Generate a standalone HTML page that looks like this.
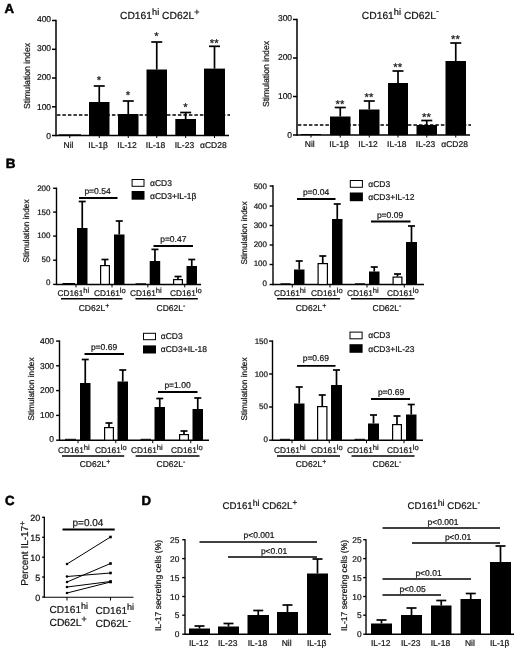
<!DOCTYPE html>
<html lang="en">
<head>
<meta charset="utf-8">
<title>Figure</title>
<style>
html,body{margin:0;padding:0;background:#fff;}
body{width:520px;height:648px;overflow:hidden;}
svg{display:block;filter:blur(0.3px);font-family:"Liberation Sans",sans-serif;}
text{stroke:#151515;stroke-width:0.22px;text-rendering:geometricPrecision;}
text.b{stroke:#000;stroke-width:0.5px;}
</style>
</head>
<body>
<svg width="520" height="648" viewBox="0 0 520 648">
<rect x="0" y="0" width="520" height="648" fill="#fff"/>
<text x="4.6" y="12.5" font-size="13.2" text-anchor="start" fill="#000" font-weight="bold" class="b">A</text>
<g id="A-left">
<line x1="56" y1="19.75" x2="56" y2="136.25" stroke="#000" stroke-width="1.5"/>
<line x1="52" y1="20.5" x2="56" y2="20.5" stroke="#000" stroke-width="1.5"/>
<text x="51.1" y="21.56" font-size="8.5" text-anchor="end" fill="#151515">400</text>
<line x1="52" y1="49.3" x2="56" y2="49.3" stroke="#000" stroke-width="1.5"/>
<text x="51.1" y="50.91" font-size="8.5" text-anchor="end" fill="#151515">300</text>
<line x1="52" y1="78" x2="56" y2="78" stroke="#000" stroke-width="1.5"/>
<text x="51.1" y="80.16" font-size="8.5" text-anchor="end" fill="#151515">200</text>
<line x1="52" y1="106.8" x2="56" y2="106.8" stroke="#000" stroke-width="1.5"/>
<text x="51.1" y="109.51" font-size="8.5" text-anchor="end" fill="#151515">100</text>
<line x1="52" y1="135.5" x2="56" y2="135.5" stroke="#000" stroke-width="1.5"/>
<text x="51.1" y="138.76" font-size="8.5" text-anchor="end" fill="#151515">0</text>
<line x1="56" y1="135.5" x2="229" y2="135.5" stroke="#000" stroke-width="1.5"/>
<text x="29.5" y="76" font-size="8.7" text-anchor="middle" fill="#151515" transform="rotate(-90 29.5 76)">Stimulation index</text>
<rect x="58.5" y="134.3" width="22.5" height="1.2" fill="#000"/>
<line x1="69.75" y1="135.5" x2="69.75" y2="138" stroke="#000" stroke-width="1"/>
<text x="68.55" y="147.5" font-size="8.5" text-anchor="middle" fill="#151515">Nil</text>
<line x1="99.25" y1="86" x2="99.25" y2="102" stroke="#000" stroke-width="1.7"/>
<line x1="93.75" y1="86" x2="104.75" y2="86" stroke="#000" stroke-width="1.7"/>
<rect x="89" y="102" width="20.5" height="33.5" fill="#000"/>
<line x1="99.25" y1="135.5" x2="99.25" y2="138" stroke="#000" stroke-width="1"/>
<text x="98.05" y="147.5" font-size="8.5" text-anchor="middle" fill="#151515">IL-1β</text>
<text x="98.95" y="84.3" font-size="11.3" text-anchor="middle" fill="#151515">*</text>
<line x1="128.25" y1="101" x2="128.25" y2="114" stroke="#000" stroke-width="1.7"/>
<line x1="122.75" y1="101" x2="133.75" y2="101" stroke="#000" stroke-width="1.7"/>
<rect x="118" y="114" width="20.5" height="21.5" fill="#000"/>
<line x1="128.25" y1="135.5" x2="128.25" y2="138" stroke="#000" stroke-width="1"/>
<text x="127.05" y="147.5" font-size="8.5" text-anchor="middle" fill="#151515">IL-12</text>
<text x="127.95" y="99.3" font-size="11.3" text-anchor="middle" fill="#151515">*</text>
<line x1="156.75" y1="42" x2="156.75" y2="69.5" stroke="#000" stroke-width="1.7"/>
<line x1="151.25" y1="42" x2="162.25" y2="42" stroke="#000" stroke-width="1.7"/>
<rect x="146.5" y="69.5" width="20.5" height="66" fill="#000"/>
<line x1="156.75" y1="135.5" x2="156.75" y2="138" stroke="#000" stroke-width="1"/>
<text x="155.55" y="147.5" font-size="8.5" text-anchor="middle" fill="#151515">IL-18</text>
<text x="156.45" y="40.3" font-size="11.3" text-anchor="middle" fill="#151515">*</text>
<line x1="185.65" y1="112.5" x2="185.65" y2="119" stroke="#000" stroke-width="1.7"/>
<line x1="180.15" y1="112.5" x2="191.15" y2="112.5" stroke="#000" stroke-width="1.7"/>
<rect x="175.3" y="119" width="20.7" height="16.5" fill="#000"/>
<line x1="185.65" y1="135.5" x2="185.65" y2="138" stroke="#000" stroke-width="1"/>
<text x="184.45" y="147.5" font-size="8.5" text-anchor="middle" fill="#151515">IL-23</text>
<text x="185.35" y="110.8" font-size="11.3" text-anchor="middle" fill="#151515">*</text>
<line x1="214.5" y1="46.3" x2="214.5" y2="68.6" stroke="#000" stroke-width="1.7"/>
<line x1="209" y1="46.3" x2="220" y2="46.3" stroke="#000" stroke-width="1.7"/>
<rect x="204" y="68.6" width="21" height="66.9" fill="#000"/>
<line x1="214.5" y1="135.5" x2="214.5" y2="138" stroke="#000" stroke-width="1"/>
<text x="213.3" y="147.5" font-size="8.5" text-anchor="middle" fill="#151515">αCD28</text>
<text x="214.2" y="46.7" font-size="11.3" text-anchor="middle" fill="#151515">**</text>
<line x1="56.9" y1="115" x2="230" y2="115" stroke="#000" stroke-width="1.6" stroke-dasharray="3.5 2"/>

<text x="120" y="19" font-size="10.3" text-anchor="start" fill="#151515">CD161<tspan font-size="9.2" dy="-4.2">hi</tspan><tspan font-size="10.3" dy="4.2"> CD62L</tspan><tspan font-size="9" dy="-4.5">+</tspan></text>
</g>
<g id="A-right">
<line x1="297" y1="18.75" x2="297" y2="135.75" stroke="#000" stroke-width="1.5"/>
<line x1="293" y1="19.5" x2="297" y2="19.5" stroke="#000" stroke-width="1.5"/>
<text x="292.1" y="20.56" font-size="8.5" text-anchor="end" fill="#151515">300</text>
<line x1="293" y1="58" x2="297" y2="58" stroke="#000" stroke-width="1.5"/>
<text x="292.1" y="59.79" font-size="8.5" text-anchor="end" fill="#151515">200</text>
<line x1="293" y1="96.5" x2="297" y2="96.5" stroke="#000" stroke-width="1.5"/>
<text x="292.1" y="99.03" font-size="8.5" text-anchor="end" fill="#151515">100</text>
<line x1="293" y1="135" x2="297" y2="135" stroke="#000" stroke-width="1.5"/>
<text x="292.1" y="138.26" font-size="8.5" text-anchor="end" fill="#151515">0</text>
<line x1="297" y1="135" x2="470" y2="135" stroke="#000" stroke-width="1.5"/>
<text x="268.5" y="74" font-size="8.7" text-anchor="middle" fill="#151515" transform="rotate(-90 268.5 74)">Stimulation index</text>
<rect x="301" y="134" width="20" height="1" fill="#000"/>
<line x1="311" y1="135" x2="311" y2="137.5" stroke="#000" stroke-width="1"/>
<text x="309.8" y="147" font-size="8.5" text-anchor="middle" fill="#151515">Nil</text>
<line x1="340.25" y1="107.5" x2="340.25" y2="116.5" stroke="#000" stroke-width="1.7"/>
<line x1="334.75" y1="107.5" x2="345.75" y2="107.5" stroke="#000" stroke-width="1.7"/>
<rect x="330" y="116.5" width="20.5" height="18.5" fill="#000"/>
<line x1="340.25" y1="135" x2="340.25" y2="137.5" stroke="#000" stroke-width="1"/>
<text x="339.05" y="147" font-size="8.5" text-anchor="middle" fill="#151515">IL-1β</text>
<text x="339.95" y="107.9" font-size="11.3" text-anchor="middle" fill="#151515">**</text>
<line x1="369.25" y1="101" x2="369.25" y2="109.5" stroke="#000" stroke-width="1.7"/>
<line x1="363.75" y1="101" x2="374.75" y2="101" stroke="#000" stroke-width="1.7"/>
<rect x="359" y="109.5" width="20.5" height="25.5" fill="#000"/>
<line x1="369.25" y1="135" x2="369.25" y2="137.5" stroke="#000" stroke-width="1"/>
<text x="368.05" y="147" font-size="8.5" text-anchor="middle" fill="#151515">IL-12</text>
<text x="368.95" y="101.4" font-size="11.3" text-anchor="middle" fill="#151515">**</text>
<line x1="398" y1="71" x2="398" y2="83" stroke="#000" stroke-width="1.7"/>
<line x1="392.5" y1="71" x2="403.5" y2="71" stroke="#000" stroke-width="1.7"/>
<rect x="388" y="83" width="20" height="52" fill="#000"/>
<line x1="398" y1="135" x2="398" y2="137.5" stroke="#000" stroke-width="1"/>
<text x="396.8" y="147" font-size="8.5" text-anchor="middle" fill="#151515">IL-18</text>
<text x="397.7" y="71.4" font-size="11.3" text-anchor="middle" fill="#151515">**</text>
<line x1="426.75" y1="120.5" x2="426.75" y2="125" stroke="#000" stroke-width="1.7"/>
<line x1="421.25" y1="120.5" x2="432.25" y2="120.5" stroke="#000" stroke-width="1.7"/>
<rect x="416.5" y="125" width="20.5" height="10" fill="#000"/>
<line x1="426.75" y1="135" x2="426.75" y2="137.5" stroke="#000" stroke-width="1"/>
<text x="425.55" y="147" font-size="8.5" text-anchor="middle" fill="#151515">IL-23</text>
<text x="426.45" y="120.9" font-size="11.3" text-anchor="middle" fill="#151515">**</text>
<line x1="455.75" y1="43" x2="455.75" y2="61" stroke="#000" stroke-width="1.7"/>
<line x1="450.25" y1="43" x2="461.25" y2="43" stroke="#000" stroke-width="1.7"/>
<rect x="445.5" y="61" width="20.5" height="74" fill="#000"/>
<line x1="455.75" y1="135" x2="455.75" y2="137.5" stroke="#000" stroke-width="1"/>
<text x="454.55" y="147" font-size="8.5" text-anchor="middle" fill="#151515">αCD28</text>
<text x="455.45" y="43.4" font-size="11.3" text-anchor="middle" fill="#151515">**</text>
<line x1="297.9" y1="125" x2="471" y2="125" stroke="#000" stroke-width="1.6" stroke-dasharray="3.5 2"/>

<text x="361.8" y="18.8" font-size="10.3" text-anchor="start" fill="#151515">CD161<tspan font-size="9.2" dy="-4.2">hi</tspan><tspan font-size="10.3" dy="4.2"> CD62L</tspan><tspan font-size="9" dy="-4.5">-</tspan></text>
</g>
<text x="5.8" y="167.9" font-size="13.5" text-anchor="start" fill="#000" font-weight="bold" class="b">B</text>
<g id="B1">
<line x1="56.5" y1="187.6" x2="56.5" y2="285.1" stroke="#000" stroke-width="1.4"/>
<line x1="53.1" y1="188.3" x2="56.5" y2="188.3" stroke="#000" stroke-width="1.4"/>
<text x="50.5" y="191.18" font-size="8" text-anchor="end" fill="#151515">200</text>
<line x1="53.1" y1="212.1" x2="56.5" y2="212.1" stroke="#000" stroke-width="1.4"/>
<text x="50.5" y="214.53" font-size="8" text-anchor="end" fill="#151515">150</text>
<line x1="53.1" y1="236.1" x2="56.5" y2="236.1" stroke="#000" stroke-width="1.4"/>
<text x="50.5" y="238.08" font-size="8" text-anchor="end" fill="#151515">100</text>
<line x1="53.1" y1="260.2" x2="56.5" y2="260.2" stroke="#000" stroke-width="1.4"/>
<text x="50.5" y="261.73" font-size="8" text-anchor="end" fill="#151515">50</text>
<line x1="53.1" y1="284.4" x2="56.5" y2="284.4" stroke="#000" stroke-width="1.4"/>
<text x="50.5" y="285.48" font-size="8" text-anchor="end" fill="#151515">0</text>
<line x1="56.5" y1="284.4" x2="201" y2="284.4" stroke="#000" stroke-width="1.5"/>
<text x="29" y="231" font-size="8.3" text-anchor="middle" fill="#151515" transform="rotate(-90 29 231)">Stimulation index</text>
<line x1="62.5" y1="283.5" x2="75" y2="283.5" stroke="#000" stroke-width="1"/>
<line x1="82.25" y1="201.5" x2="82.25" y2="228" stroke="#000" stroke-width="1.7"/>
<line x1="78.75" y1="201.5" x2="85.75" y2="201.5" stroke="#000" stroke-width="1.7"/>
<rect x="77" y="228" width="10.5" height="56.4" fill="#000"/>
<line x1="76" y1="284.4" x2="76" y2="287.4" stroke="#000" stroke-width="1"/>
<line x1="105" y1="259.5" x2="105" y2="265" stroke="#000" stroke-width="1.7"/>
<line x1="101.5" y1="259.5" x2="108.5" y2="259.5" stroke="#000" stroke-width="1.7"/>
<rect x="100.6" y="265.6" width="8.8" height="18.8" fill="#fff" stroke="#000" stroke-width="1.2"/>
<line x1="119.25" y1="221" x2="119.25" y2="234.5" stroke="#000" stroke-width="1.7"/>
<line x1="115.75" y1="221" x2="122.75" y2="221" stroke="#000" stroke-width="1.7"/>
<rect x="114" y="234.5" width="10.5" height="49.9" fill="#000"/>
<line x1="112" y1="284.4" x2="112" y2="287.4" stroke="#000" stroke-width="1"/>
<line x1="135.5" y1="283.8" x2="146" y2="283.8" stroke="#000" stroke-width="1"/>
<line x1="154.95" y1="249.4" x2="154.95" y2="261" stroke="#000" stroke-width="1.7"/>
<line x1="151.45" y1="249.4" x2="158.45" y2="249.4" stroke="#000" stroke-width="1.7"/>
<rect x="149.7" y="261" width="10.5" height="23.4" fill="#000"/>
<line x1="147.85" y1="284.4" x2="147.85" y2="287.4" stroke="#000" stroke-width="1"/>
<line x1="178" y1="276.5" x2="178" y2="279" stroke="#000" stroke-width="1.7"/>
<line x1="174.5" y1="276.5" x2="181.5" y2="276.5" stroke="#000" stroke-width="1.7"/>
<rect x="173.6" y="279.6" width="8.8" height="4.8" fill="#fff" stroke="#000" stroke-width="1.2"/>
<line x1="191.75" y1="259.5" x2="191.75" y2="266" stroke="#000" stroke-width="1.7"/>
<line x1="188.25" y1="259.5" x2="195.25" y2="259.5" stroke="#000" stroke-width="1.7"/>
<rect x="186.5" y="266" width="10.5" height="18.4" fill="#000"/>
<line x1="184.75" y1="284.4" x2="184.75" y2="287.4" stroke="#000" stroke-width="1"/>
<rect x="132.1" y="179.5" width="11.9" height="6.8" fill="#fff" stroke="#000" stroke-width="1"/>
<rect x="131.6" y="191" width="12.9" height="8.7" fill="#000"/>
<text x="150" y="185.8" font-size="8.5" text-anchor="start" fill="#151515">αCD3</text>
<text x="150" y="199.1" font-size="8.5" text-anchor="start" fill="#151515">αCD3+IL-1β</text>
<line x1="79" y1="198" x2="117.5" y2="198" stroke="#000" stroke-width="1.8"/>
<text x="97.5" y="194" font-size="8.5" text-anchor="middle" fill="#151515">p=0.54</text>
<line x1="153.5" y1="246" x2="193" y2="246" stroke="#000" stroke-width="1.8"/>
<text x="173.3" y="241.7" font-size="8.5" text-anchor="middle" fill="#151515">p=0.47</text>
<text x="57.5" y="295.8" font-size="8.3" text-anchor="start" fill="#151515">CD161<tspan font-size="7.6" dy="-2.8">hi</tspan></text>
<text x="94" y="295.8" font-size="8.3" text-anchor="start" fill="#151515">CD161<tspan font-size="7.6" dy="-2.8">lo</tspan></text>
<text x="130" y="295.8" font-size="8.3" text-anchor="start" fill="#151515">CD161<tspan font-size="7.6" dy="-2.8">hi</tspan></text>
<text x="170" y="295.8" font-size="8.3" text-anchor="start" fill="#151515">CD161<tspan font-size="7.6" dy="-2.8">lo</tspan></text>
<line x1="61" y1="298.8" x2="122.5" y2="298.8" stroke="#000" stroke-width="1.5"/>
<line x1="135.5" y1="298.8" x2="197.8" y2="298.8" stroke="#000" stroke-width="1.5"/>
<text x="94" y="311" font-size="8.5" text-anchor="middle" fill="#151515">CD62L<tspan font-size="7" dy="-3.2">+</tspan></text>
<text x="171" y="311" font-size="8.5" text-anchor="middle" fill="#151515">CD62L<tspan font-size="7" dy="-3.2">-</tspan></text>
</g>
<g id="B2">
<line x1="273" y1="185.3" x2="273" y2="285.2" stroke="#000" stroke-width="1.4"/>
<line x1="269.6" y1="186" x2="273" y2="186" stroke="#000" stroke-width="1.4"/>
<text x="267" y="188.88" font-size="8" text-anchor="end" fill="#151515">500</text>
<line x1="269.6" y1="206" x2="273" y2="206" stroke="#000" stroke-width="1.4"/>
<text x="267" y="208.52" font-size="8" text-anchor="end" fill="#151515">400</text>
<line x1="269.6" y1="225.5" x2="273" y2="225.5" stroke="#000" stroke-width="1.4"/>
<text x="267" y="227.66" font-size="8" text-anchor="end" fill="#151515">300</text>
<line x1="269.6" y1="245" x2="273" y2="245" stroke="#000" stroke-width="1.4"/>
<text x="267" y="246.8" font-size="8" text-anchor="end" fill="#151515">200</text>
<line x1="269.6" y1="264.5" x2="273" y2="264.5" stroke="#000" stroke-width="1.4"/>
<text x="267" y="265.94" font-size="8" text-anchor="end" fill="#151515">100</text>
<line x1="269.6" y1="284.5" x2="273" y2="284.5" stroke="#000" stroke-width="1.4"/>
<text x="267" y="285.58" font-size="8" text-anchor="end" fill="#151515">0</text>
<line x1="273" y1="284.5" x2="424" y2="284.5" stroke="#000" stroke-width="1.5"/>
<text x="246.5" y="233" font-size="8.3" text-anchor="middle" fill="#151515" transform="rotate(-90 246.5 233)">Stimulation index</text>
<line x1="280.5" y1="283.8" x2="290.5" y2="283.8" stroke="#000" stroke-width="1"/>
<line x1="299.25" y1="261" x2="299.25" y2="269.5" stroke="#000" stroke-width="1.7"/>
<line x1="295.75" y1="261" x2="302.75" y2="261" stroke="#000" stroke-width="1.7"/>
<rect x="294" y="269.5" width="10.5" height="15" fill="#000"/>
<line x1="292.25" y1="284.5" x2="292.25" y2="287.5" stroke="#000" stroke-width="1"/>
<line x1="322.75" y1="256" x2="322.75" y2="263" stroke="#000" stroke-width="1.7"/>
<line x1="319.25" y1="256" x2="326.25" y2="256" stroke="#000" stroke-width="1.7"/>
<rect x="318.1" y="263.6" width="9.3" height="20.9" fill="#fff" stroke="#000" stroke-width="1.2"/>
<line x1="337.25" y1="204" x2="337.25" y2="219" stroke="#000" stroke-width="1.7"/>
<line x1="333.75" y1="204" x2="340.75" y2="204" stroke="#000" stroke-width="1.7"/>
<rect x="332" y="219" width="10.5" height="65.5" fill="#000"/>
<line x1="330" y1="284.5" x2="330" y2="287.5" stroke="#000" stroke-width="1"/>
<line x1="355" y1="283.8" x2="365" y2="283.8" stroke="#000" stroke-width="1"/>
<line x1="374.25" y1="267" x2="374.25" y2="271.5" stroke="#000" stroke-width="1.7"/>
<line x1="370.75" y1="267" x2="377.75" y2="267" stroke="#000" stroke-width="1.7"/>
<rect x="369" y="271.5" width="10.5" height="13" fill="#000"/>
<line x1="367" y1="284.5" x2="367" y2="287.5" stroke="#000" stroke-width="1"/>
<line x1="397.5" y1="274" x2="397.5" y2="276.5" stroke="#000" stroke-width="1.7"/>
<line x1="394" y1="274" x2="401" y2="274" stroke="#000" stroke-width="1.7"/>
<rect x="393.1" y="277.1" width="8.8" height="7.4" fill="#fff" stroke="#000" stroke-width="1.2"/>
<line x1="411.5" y1="226" x2="411.5" y2="242" stroke="#000" stroke-width="1.7"/>
<line x1="408" y1="226" x2="415" y2="226" stroke="#000" stroke-width="1.7"/>
<rect x="406" y="242" width="11" height="42.5" fill="#000"/>
<line x1="404.25" y1="284.5" x2="404.25" y2="287.5" stroke="#000" stroke-width="1"/>
<rect x="350.3" y="180.5" width="12.1" height="6.8" fill="#fff" stroke="#000" stroke-width="1"/>
<rect x="349.8" y="192.5" width="13.1" height="8.7" fill="#000"/>
<text x="368.3" y="186.8" font-size="8.5" text-anchor="start" fill="#151515">αCD3</text>
<text x="368.3" y="200.2" font-size="8.5" text-anchor="start" fill="#151515">αCD3+IL-12</text>
<line x1="297" y1="199" x2="335.5" y2="199" stroke="#000" stroke-width="1.8"/>
<text x="316" y="195" font-size="8.5" text-anchor="middle" fill="#151515">p=0.04</text>
<line x1="371" y1="221.5" x2="410.5" y2="221.5" stroke="#000" stroke-width="1.8"/>
<text x="390" y="217.5" font-size="8.5" text-anchor="middle" fill="#151515">p=0.09</text>
<text x="274" y="295.8" font-size="8.3" text-anchor="start" fill="#151515">CD161<tspan font-size="7.6" dy="-2.8">hi</tspan></text>
<text x="311" y="295.8" font-size="8.3" text-anchor="start" fill="#151515">CD161<tspan font-size="7.6" dy="-2.8">lo</tspan></text>
<text x="347" y="295.8" font-size="8.3" text-anchor="start" fill="#151515">CD161<tspan font-size="7.6" dy="-2.8">hi</tspan></text>
<text x="387" y="295.8" font-size="8.3" text-anchor="start" fill="#151515">CD161<tspan font-size="7.6" dy="-2.8">lo</tspan></text>
<line x1="277" y1="298.8" x2="340" y2="298.8" stroke="#000" stroke-width="1.5"/>
<line x1="351" y1="298.8" x2="414.5" y2="298.8" stroke="#000" stroke-width="1.5"/>
<text x="311" y="311" font-size="8.5" text-anchor="middle" fill="#151515">CD62L<tspan font-size="7" dy="-3.2">+</tspan></text>
<text x="387" y="311" font-size="8.5" text-anchor="middle" fill="#151515">CD62L<tspan font-size="7" dy="-3.2">-</tspan></text>
</g>
<g id="B3">
<line x1="59.5" y1="340.4" x2="59.5" y2="440.9" stroke="#000" stroke-width="1.4"/>
<line x1="56.1" y1="341.1" x2="59.5" y2="341.1" stroke="#000" stroke-width="1.4"/>
<text x="54.1" y="344.16" font-size="8.5" text-anchor="end" fill="#151515">400</text>
<line x1="56.1" y1="365.8" x2="59.5" y2="365.8" stroke="#000" stroke-width="1.4"/>
<text x="54.1" y="368.61" font-size="8.5" text-anchor="end" fill="#151515">300</text>
<line x1="56.1" y1="390.6" x2="59.5" y2="390.6" stroke="#000" stroke-width="1.4"/>
<text x="54.1" y="393.16" font-size="8.5" text-anchor="end" fill="#151515">200</text>
<line x1="56.1" y1="415.4" x2="59.5" y2="415.4" stroke="#000" stroke-width="1.4"/>
<text x="54.1" y="417.71" font-size="8.5" text-anchor="end" fill="#151515">100</text>
<line x1="56.1" y1="440.2" x2="59.5" y2="440.2" stroke="#000" stroke-width="1.4"/>
<text x="54.1" y="442.26" font-size="8.5" text-anchor="end" fill="#151515">0</text>
<line x1="59.5" y1="440.2" x2="209" y2="440.2" stroke="#000" stroke-width="1.5"/>
<text x="33.5" y="389" font-size="8.3" text-anchor="middle" fill="#151515" transform="rotate(-90 33.5 389)">Stimulation index</text>
<line x1="65" y1="439.3" x2="76" y2="439.3" stroke="#000" stroke-width="1"/>
<line x1="85.25" y1="359.5" x2="85.25" y2="383" stroke="#000" stroke-width="1.7"/>
<line x1="81.75" y1="359.5" x2="88.75" y2="359.5" stroke="#000" stroke-width="1.7"/>
<rect x="80" y="383" width="10.5" height="57.2" fill="#000"/>
<line x1="78" y1="440.2" x2="78" y2="443.2" stroke="#000" stroke-width="1"/>
<line x1="109" y1="423" x2="109" y2="427" stroke="#000" stroke-width="1.7"/>
<line x1="105.5" y1="423" x2="112.5" y2="423" stroke="#000" stroke-width="1.7"/>
<rect x="104.6" y="427.6" width="8.8" height="12.6" fill="#fff" stroke="#000" stroke-width="1.2"/>
<line x1="122.75" y1="370" x2="122.75" y2="381.5" stroke="#000" stroke-width="1.7"/>
<line x1="119.25" y1="370" x2="126.25" y2="370" stroke="#000" stroke-width="1.7"/>
<rect x="117.5" y="381.5" width="10.5" height="58.7" fill="#000"/>
<line x1="115.75" y1="440.2" x2="115.75" y2="443.2" stroke="#000" stroke-width="1"/>
<line x1="140.5" y1="439.3" x2="151" y2="439.3" stroke="#000" stroke-width="1"/>
<line x1="159.75" y1="398.5" x2="159.75" y2="407" stroke="#000" stroke-width="1.7"/>
<line x1="156.25" y1="398.5" x2="163.25" y2="398.5" stroke="#000" stroke-width="1.7"/>
<rect x="154.5" y="407" width="10.5" height="33.2" fill="#000"/>
<line x1="152.75" y1="440.2" x2="152.75" y2="443.2" stroke="#000" stroke-width="1"/>
<line x1="184" y1="431" x2="184" y2="434" stroke="#000" stroke-width="1.7"/>
<line x1="180.5" y1="431" x2="187.5" y2="431" stroke="#000" stroke-width="1.7"/>
<rect x="179.6" y="434.6" width="8.8" height="5.6" fill="#fff" stroke="#000" stroke-width="1.2"/>
<line x1="197.75" y1="398" x2="197.75" y2="409" stroke="#000" stroke-width="1.7"/>
<line x1="194.25" y1="398" x2="201.25" y2="398" stroke="#000" stroke-width="1.7"/>
<rect x="192.5" y="409" width="10.5" height="31.2" fill="#000"/>
<line x1="190.75" y1="440.2" x2="190.75" y2="443.2" stroke="#000" stroke-width="1"/>
<rect x="143.5" y="333.3" width="12" height="6.4" fill="#fff" stroke="#000" stroke-width="1"/>
<rect x="143" y="345.4" width="13" height="8.1" fill="#000"/>
<text x="160.8" y="339" font-size="8.5" text-anchor="start" fill="#151515">αCD3</text>
<text x="160.8" y="352.4" font-size="8.5" text-anchor="start" fill="#151515">αCD3+IL-18</text>
<line x1="84.5" y1="354" x2="124" y2="354" stroke="#000" stroke-width="1.8"/>
<text x="104" y="349.7" font-size="8.5" text-anchor="middle" fill="#151515">p=0.69</text>
<line x1="158" y1="392" x2="197.5" y2="392" stroke="#000" stroke-width="1.8"/>
<text x="177.5" y="388" font-size="8.5" text-anchor="middle" fill="#151515">p=1.00</text>
<text x="58" y="452.5" font-size="8.3" text-anchor="start" fill="#151515">CD161<tspan font-size="7.6" dy="-2.8">hi</tspan></text>
<text x="95" y="452.5" font-size="8.3" text-anchor="start" fill="#151515">CD161<tspan font-size="7.6" dy="-2.8">lo</tspan></text>
<text x="131" y="452.5" font-size="8.3" text-anchor="start" fill="#151515">CD161<tspan font-size="7.6" dy="-2.8">hi</tspan></text>
<text x="171" y="452.5" font-size="8.3" text-anchor="start" fill="#151515">CD161<tspan font-size="7.6" dy="-2.8">lo</tspan></text>
<line x1="62" y1="455.9" x2="124.2" y2="455.9" stroke="#000" stroke-width="1.5"/>
<line x1="135.6" y1="455.9" x2="199.5" y2="455.9" stroke="#000" stroke-width="1.5"/>
<text x="95" y="467" font-size="8.5" text-anchor="middle" fill="#151515">CD62L<tspan font-size="7" dy="-3.2">+</tspan></text>
<text x="171" y="467" font-size="8.5" text-anchor="middle" fill="#151515">CD62L<tspan font-size="7" dy="-3.2">-</tspan></text>
</g>
<g id="B4">
<line x1="272.5" y1="340.4" x2="272.5" y2="440.9" stroke="#000" stroke-width="1.4"/>
<line x1="269.1" y1="341.1" x2="272.5" y2="341.1" stroke="#000" stroke-width="1.4"/>
<text x="268" y="343.98" font-size="8" text-anchor="end" fill="#151515">150</text>
<line x1="269.1" y1="374" x2="272.5" y2="374" stroke="#000" stroke-width="1.4"/>
<text x="268" y="376.55" font-size="8" text-anchor="end" fill="#151515">100</text>
<line x1="269.1" y1="407" x2="272.5" y2="407" stroke="#000" stroke-width="1.4"/>
<text x="268" y="409.21" font-size="8" text-anchor="end" fill="#151515">50</text>
<line x1="269.1" y1="440.2" x2="272.5" y2="440.2" stroke="#000" stroke-width="1.4"/>
<text x="268" y="442.08" font-size="8" text-anchor="end" fill="#151515">0</text>
<line x1="272.5" y1="440.2" x2="423" y2="440.2" stroke="#000" stroke-width="1.5"/>
<text x="247" y="389" font-size="8.3" text-anchor="middle" fill="#151515" transform="rotate(-90 247 389)">Stimulation index</text>
<line x1="280" y1="439.3" x2="290" y2="439.3" stroke="#000" stroke-width="1"/>
<line x1="299.25" y1="387" x2="299.25" y2="403.5" stroke="#000" stroke-width="1.7"/>
<line x1="295.75" y1="387" x2="302.75" y2="387" stroke="#000" stroke-width="1.7"/>
<rect x="294" y="403.5" width="10.5" height="36.7" fill="#000"/>
<line x1="292" y1="440.2" x2="292" y2="443.2" stroke="#000" stroke-width="1"/>
<line x1="322.25" y1="395" x2="322.25" y2="406" stroke="#000" stroke-width="1.7"/>
<line x1="318.75" y1="395" x2="325.75" y2="395" stroke="#000" stroke-width="1.7"/>
<rect x="317.6" y="406.6" width="9.3" height="33.6" fill="#fff" stroke="#000" stroke-width="1.2"/>
<line x1="336.5" y1="370" x2="336.5" y2="385" stroke="#000" stroke-width="1.7"/>
<line x1="333" y1="370" x2="340" y2="370" stroke="#000" stroke-width="1.7"/>
<rect x="331" y="385" width="11" height="55.2" fill="#000"/>
<line x1="329.25" y1="440.2" x2="329.25" y2="443.2" stroke="#000" stroke-width="1"/>
<line x1="354.5" y1="439.3" x2="365" y2="439.3" stroke="#000" stroke-width="1"/>
<line x1="373.5" y1="415" x2="373.5" y2="423.5" stroke="#000" stroke-width="1.7"/>
<line x1="370" y1="415" x2="377" y2="415" stroke="#000" stroke-width="1.7"/>
<rect x="368" y="423.5" width="11" height="16.7" fill="#000"/>
<line x1="366.5" y1="440.2" x2="366.5" y2="443.2" stroke="#000" stroke-width="1"/>
<line x1="397" y1="416" x2="397" y2="424" stroke="#000" stroke-width="1.7"/>
<line x1="393.5" y1="416" x2="400.5" y2="416" stroke="#000" stroke-width="1.7"/>
<rect x="392.6" y="424.6" width="8.8" height="15.6" fill="#fff" stroke="#000" stroke-width="1.2"/>
<line x1="411.25" y1="404.5" x2="411.25" y2="414.5" stroke="#000" stroke-width="1.7"/>
<line x1="407.75" y1="404.5" x2="414.75" y2="404.5" stroke="#000" stroke-width="1.7"/>
<rect x="406" y="414.5" width="10.5" height="25.7" fill="#000"/>
<line x1="404" y1="440.2" x2="404" y2="443.2" stroke="#000" stroke-width="1"/>
<rect x="350" y="332.1" width="12.1" height="6.7" fill="#fff" stroke="#000" stroke-width="1"/>
<rect x="349.5" y="344.2" width="13.1" height="8.6" fill="#000"/>
<text x="368.3" y="337.6" font-size="8.5" text-anchor="start" fill="#151515">αCD3</text>
<text x="368.3" y="351.9" font-size="8.5" text-anchor="start" fill="#151515">αCD3+IL-23</text>
<line x1="297" y1="365.8" x2="335.5" y2="365.8" stroke="#000" stroke-width="1.8"/>
<text x="315.8" y="361" font-size="8.5" text-anchor="middle" fill="#151515">p=0.69</text>
<line x1="371" y1="399" x2="410" y2="399" stroke="#000" stroke-width="1.8"/>
<text x="391" y="395" font-size="8.5" text-anchor="middle" fill="#151515">p=0.69</text>
<text x="274" y="452.5" font-size="8.3" text-anchor="start" fill="#151515">CD161<tspan font-size="7.6" dy="-2.8">hi</tspan></text>
<text x="311" y="452.5" font-size="8.3" text-anchor="start" fill="#151515">CD161<tspan font-size="7.6" dy="-2.8">lo</tspan></text>
<text x="347" y="452.5" font-size="8.3" text-anchor="start" fill="#151515">CD161<tspan font-size="7.6" dy="-2.8">hi</tspan></text>
<text x="387" y="452.5" font-size="8.3" text-anchor="start" fill="#151515">CD161<tspan font-size="7.6" dy="-2.8">lo</tspan></text>
<line x1="277" y1="455.9" x2="340" y2="455.9" stroke="#000" stroke-width="1.5"/>
<line x1="351.5" y1="455.9" x2="414.5" y2="455.9" stroke="#000" stroke-width="1.5"/>
<text x="311" y="467" font-size="8.5" text-anchor="middle" fill="#151515">CD62L<tspan font-size="7" dy="-3.2">+</tspan></text>
<text x="387" y="467" font-size="8.5" text-anchor="middle" fill="#151515">CD62L<tspan font-size="7" dy="-3.2">-</tspan></text>
</g>
<g id="C">
<text x="5" y="505.3" font-size="13.2" text-anchor="start" fill="#000" font-weight="bold" class="b">C</text>
<line x1="44.3" y1="516.65" x2="44.3" y2="597.65" stroke="#000" stroke-width="1.3"/>
<line x1="42.1" y1="517.3" x2="44.3" y2="517.3" stroke="#000" stroke-width="1.3"/>
<text x="40.2" y="521.04" font-size="9" text-anchor="end" fill="#151515">20</text>
<line x1="42.1" y1="537.3" x2="44.3" y2="537.3" stroke="#000" stroke-width="1.3"/>
<text x="40.2" y="541.04" font-size="9" text-anchor="end" fill="#151515">15</text>
<line x1="42.1" y1="557.2" x2="44.3" y2="557.2" stroke="#000" stroke-width="1.3"/>
<text x="40.2" y="560.94" font-size="9" text-anchor="end" fill="#151515">10</text>
<line x1="42.1" y1="577" x2="44.3" y2="577" stroke="#000" stroke-width="1.3"/>
<text x="40.2" y="580.74" font-size="9" text-anchor="end" fill="#151515">5</text>
<line x1="42.1" y1="597" x2="44.3" y2="597" stroke="#000" stroke-width="1.3"/>
<text x="40.2" y="600.74" font-size="9" text-anchor="end" fill="#151515">0</text>
<line x1="44.3" y1="597.2" x2="133.5" y2="597.2" stroke="#000" stroke-width="1.1"/>
<text x="27.5" y="553.5" font-size="10" text-anchor="middle" fill="#151515" transform="rotate(-90 27.5 553.5)">Percent IL-17<tspan font-size="8" dy="-3">+</tspan></text>
<line x1="67" y1="564" x2="110.5" y2="537" stroke="#000" stroke-width="1"/>
<circle cx="67" cy="564" r="1.3" fill="#000"/>
<rect x="109.2" y="535.7" width="2.6" height="2.6" fill="#000"/>
<line x1="67" y1="576.5" x2="110.5" y2="573" stroke="#000" stroke-width="1"/>
<circle cx="67" cy="576.5" r="1.3" fill="#000"/>
<rect x="109.2" y="571.7" width="2.6" height="2.6" fill="#000"/>
<line x1="67" y1="582" x2="110.5" y2="563.5" stroke="#000" stroke-width="1"/>
<circle cx="67" cy="582" r="1.3" fill="#000"/>
<rect x="109.2" y="562.2" width="2.6" height="2.6" fill="#000"/>
<line x1="67" y1="587" x2="110.5" y2="581.5" stroke="#000" stroke-width="1"/>
<circle cx="67" cy="587" r="1.3" fill="#000"/>
<rect x="109.2" y="580.2" width="2.6" height="2.6" fill="#000"/>
<line x1="67" y1="593" x2="110.5" y2="582" stroke="#000" stroke-width="1"/>
<circle cx="67" cy="593" r="1.3" fill="#000"/>
<rect x="109.2" y="580.7" width="2.6" height="2.6" fill="#000"/>
<line x1="67" y1="597" x2="67" y2="600.5" stroke="#000" stroke-width="1"/>
<line x1="110.5" y1="597" x2="110.5" y2="600.5" stroke="#000" stroke-width="1"/>
<line x1="62.5" y1="529.4" x2="114.7" y2="529.4" stroke="#000" stroke-width="2"/>
<text x="88" y="526" font-size="10" text-anchor="middle" fill="#151515">p=0.04</text>
<text x="49.5" y="612.8" font-size="10.15" text-anchor="start" fill="#151515">CD161<tspan font-size="9" dy="-3.6">hi</tspan></text>
<text x="49.5" y="625.6" font-size="10.3" text-anchor="start" fill="#151515">CD62L<tspan font-size="9" dy="-3.3">+</tspan></text>
<text x="95.5" y="613.8" font-size="10.15" text-anchor="start" fill="#151515">CD161<tspan font-size="9" dy="-3.6">hi</tspan></text>
<text x="95.5" y="626.8" font-size="10.4" text-anchor="start" fill="#151515">CD62L<tspan font-size="9.5" dy="-3.3">-</tspan></text>
</g>
<text x="141.6" y="505.3" font-size="13.2" text-anchor="start" fill="#000" font-weight="bold" class="b">D</text>
<g id="D1">
<line x1="185" y1="539.33" x2="185" y2="634.88" stroke="#000" stroke-width="1.35"/>
<line x1="182.2" y1="539.7" x2="185" y2="539.7" stroke="#000" stroke-width="1.35"/>
<text x="179.3" y="542.72" font-size="8.4" text-anchor="end" fill="#151515">25</text>
<line x1="182.2" y1="558.6" x2="185" y2="558.6" stroke="#000" stroke-width="1.35"/>
<text x="179.3" y="561.62" font-size="8.4" text-anchor="end" fill="#151515">20</text>
<line x1="182.2" y1="577.6" x2="185" y2="577.6" stroke="#000" stroke-width="1.35"/>
<text x="179.3" y="580.62" font-size="8.4" text-anchor="end" fill="#151515">15</text>
<line x1="182.2" y1="596.5" x2="185" y2="596.5" stroke="#000" stroke-width="1.35"/>
<text x="179.3" y="599.52" font-size="8.4" text-anchor="end" fill="#151515">10</text>
<line x1="182.2" y1="615.2" x2="185" y2="615.2" stroke="#000" stroke-width="1.35"/>
<text x="179.3" y="618.22" font-size="8.4" text-anchor="end" fill="#151515">5</text>
<line x1="182.2" y1="634.2" x2="185" y2="634.2" stroke="#000" stroke-width="1.35"/>
<text x="179.3" y="637.22" font-size="8.4" text-anchor="end" fill="#151515">0</text>
<line x1="185" y1="634.2" x2="331" y2="634.2" stroke="#000" stroke-width="1.5"/>
<text x="161.2" y="585.5" font-size="8.5" text-anchor="middle" fill="#151515" transform="rotate(-90 161.2 585.5)">IL-17 secreting cells (%)</text>
<line x1="199.5" y1="626" x2="199.5" y2="628.5" stroke="#000" stroke-width="1.7"/>
<line x1="194.5" y1="626" x2="204.5" y2="626" stroke="#000" stroke-width="1.7"/>
<rect x="189" y="628.5" width="21" height="5.7" fill="#000"/>
<text x="198.7" y="646" font-size="8.5" text-anchor="middle" fill="#151515">IL-12</text>
<line x1="228.5" y1="623.5" x2="228.5" y2="626.5" stroke="#000" stroke-width="1.7"/>
<line x1="223.5" y1="623.5" x2="233.5" y2="623.5" stroke="#000" stroke-width="1.7"/>
<rect x="218" y="626.5" width="21" height="7.7" fill="#000"/>
<text x="227.7" y="646" font-size="8.5" text-anchor="middle" fill="#151515">IL-23</text>
<line x1="258.25" y1="610.5" x2="258.25" y2="615" stroke="#000" stroke-width="1.7"/>
<line x1="253.25" y1="610.5" x2="263.25" y2="610.5" stroke="#000" stroke-width="1.7"/>
<rect x="247.5" y="615" width="21.5" height="19.2" fill="#000"/>
<text x="257.45" y="646" font-size="8.5" text-anchor="middle" fill="#151515">IL-18</text>
<line x1="287.5" y1="605" x2="287.5" y2="612" stroke="#000" stroke-width="1.7"/>
<line x1="282.5" y1="605" x2="292.5" y2="605" stroke="#000" stroke-width="1.7"/>
<rect x="277" y="612" width="21" height="22.2" fill="#000"/>
<text x="286.7" y="646" font-size="8.5" text-anchor="middle" fill="#151515">Nil</text>
<line x1="317.5" y1="559" x2="317.5" y2="573.5" stroke="#000" stroke-width="1.7"/>
<line x1="312.5" y1="559" x2="322.5" y2="559" stroke="#000" stroke-width="1.7"/>
<rect x="307" y="573.5" width="21" height="60.7" fill="#000"/>
<text x="316.7" y="646" font-size="8.5" text-anchor="middle" fill="#151515">IL-1β</text>
<line x1="199.5" y1="542" x2="317" y2="542" stroke="#000" stroke-width="1.5"/>
<text x="259" y="538" font-size="8.5" text-anchor="middle" fill="#151515">p&lt;0.001</text>
<line x1="228" y1="557" x2="317" y2="557" stroke="#000" stroke-width="1.5"/>
<text x="274" y="553.5" font-size="8.5" text-anchor="middle" fill="#151515">p&lt;0.01</text>

<text x="222.5" y="508.7" font-size="9.7" text-anchor="start" fill="#151515">CD161<tspan font-size="8.8" dy="-3.2">hi</tspan><tspan font-size="9.7" dy="3.2"> CD62L</tspan><tspan font-size="8" dy="-4">+</tspan></text>
</g>
<g id="D2">
<line x1="366" y1="539.33" x2="366" y2="634.88" stroke="#000" stroke-width="1.35"/>
<line x1="363.2" y1="539.7" x2="366" y2="539.7" stroke="#000" stroke-width="1.35"/>
<text x="361.7" y="542.72" font-size="8.4" text-anchor="end" fill="#151515">25</text>
<line x1="363.2" y1="558.6" x2="366" y2="558.6" stroke="#000" stroke-width="1.35"/>
<text x="361.7" y="561.62" font-size="8.4" text-anchor="end" fill="#151515">20</text>
<line x1="363.2" y1="577.6" x2="366" y2="577.6" stroke="#000" stroke-width="1.35"/>
<text x="361.7" y="580.62" font-size="8.4" text-anchor="end" fill="#151515">15</text>
<line x1="363.2" y1="596.5" x2="366" y2="596.5" stroke="#000" stroke-width="1.35"/>
<text x="361.7" y="599.52" font-size="8.4" text-anchor="end" fill="#151515">10</text>
<line x1="363.2" y1="615.2" x2="366" y2="615.2" stroke="#000" stroke-width="1.35"/>
<text x="361.7" y="618.22" font-size="8.4" text-anchor="end" fill="#151515">5</text>
<line x1="363.2" y1="634.2" x2="366" y2="634.2" stroke="#000" stroke-width="1.35"/>
<text x="361.7" y="637.22" font-size="8.4" text-anchor="end" fill="#151515">0</text>
<line x1="366" y1="634.2" x2="514" y2="634.2" stroke="#000" stroke-width="1.5"/>
<text x="347.2" y="585.5" font-size="8.5" text-anchor="middle" fill="#151515" transform="rotate(-90 347.2 585.5)">IL-17 secreting cells (%)</text>
<line x1="381.5" y1="620" x2="381.5" y2="623.5" stroke="#000" stroke-width="1.7"/>
<line x1="376.5" y1="620" x2="386.5" y2="620" stroke="#000" stroke-width="1.7"/>
<rect x="371" y="623.5" width="21" height="10.7" fill="#000"/>
<text x="380.7" y="646" font-size="8.5" text-anchor="middle" fill="#151515">IL-12</text>
<line x1="411.5" y1="608" x2="411.5" y2="615" stroke="#000" stroke-width="1.7"/>
<line x1="406.5" y1="608" x2="416.5" y2="608" stroke="#000" stroke-width="1.7"/>
<rect x="401" y="615" width="21" height="19.2" fill="#000"/>
<text x="410.7" y="646" font-size="8.5" text-anchor="middle" fill="#151515">IL-23</text>
<line x1="441.25" y1="600.5" x2="441.25" y2="605.5" stroke="#000" stroke-width="1.7"/>
<line x1="436.25" y1="600.5" x2="446.25" y2="600.5" stroke="#000" stroke-width="1.7"/>
<rect x="431" y="605.5" width="20.5" height="28.7" fill="#000"/>
<text x="440.45" y="646" font-size="8.5" text-anchor="middle" fill="#151515">IL-18</text>
<line x1="470.75" y1="593.5" x2="470.75" y2="599" stroke="#000" stroke-width="1.7"/>
<line x1="465.75" y1="593.5" x2="475.75" y2="593.5" stroke="#000" stroke-width="1.7"/>
<rect x="460.5" y="599" width="20.5" height="35.2" fill="#000"/>
<text x="469.95" y="646" font-size="8.5" text-anchor="middle" fill="#151515">Nil</text>
<line x1="500.5" y1="546" x2="500.5" y2="562" stroke="#000" stroke-width="1.7"/>
<line x1="495.5" y1="546" x2="505.5" y2="546" stroke="#000" stroke-width="1.7"/>
<rect x="490" y="562" width="21" height="72.2" fill="#000"/>
<text x="499.7" y="646" font-size="8.5" text-anchor="middle" fill="#151515">IL-1β</text>
<line x1="382.5" y1="528" x2="500" y2="528" stroke="#000" stroke-width="1.5"/>
<text x="443" y="525" font-size="8.5" text-anchor="middle" fill="#151515">p&lt;0.001</text>
<line x1="412" y1="543" x2="500" y2="543" stroke="#000" stroke-width="1.5"/>
<text x="458" y="540" font-size="8.5" text-anchor="middle" fill="#151515">p&lt;0.01</text>
<line x1="382.5" y1="579" x2="471" y2="579" stroke="#000" stroke-width="1.5"/>
<text x="428.5" y="576" font-size="8.5" text-anchor="middle" fill="#151515">p&lt;0.01</text>
<line x1="382.5" y1="595" x2="441" y2="595" stroke="#000" stroke-width="1.5"/>
<text x="412.5" y="592" font-size="8.5" text-anchor="middle" fill="#151515">p&lt;0.05</text>

<text x="407.5" y="508.7" font-size="9.7" text-anchor="start" fill="#151515">CD161<tspan font-size="8.8" dy="-3.2">hi</tspan><tspan font-size="9.7" dy="3.2"> CD62L</tspan><tspan font-size="8" dy="-4">-</tspan></text>
</g>
</svg>
</body>
</html>
